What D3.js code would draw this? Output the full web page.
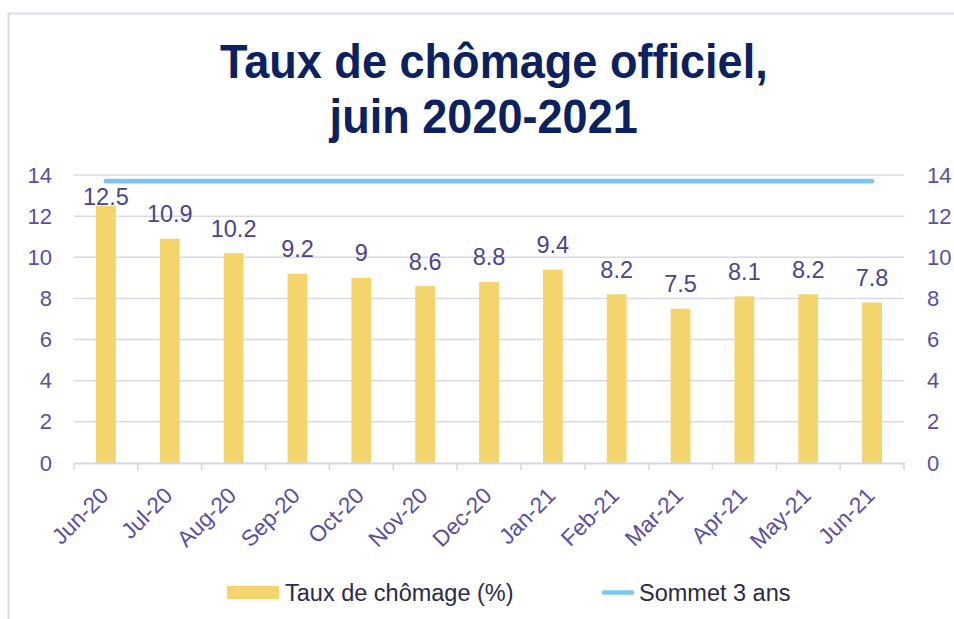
<!DOCTYPE html>
<html>
<head>
<meta charset="utf-8">
<script src="https://cdn.jsdelivr.net/npm/d3@7"></script>
<style>
  body { margin: 0; background: #fff; }
  text { font-family: "Liberation Sans", Arial, sans-serif; }
</style>
</head>
<body>
<div id="chart"></div>
<script>
// data
const months = ["Jun-20", "Jul-20", "Aug-20", "Sep-20", "Oct-20", "Nov-20", "Dec-20",
  "Jan-21", "Feb-21", "Mar-21", "Apr-21", "May-21", "Jun-21"];
const taux = [12.5, 10.9, 10.2, 9.2, 9, 8.6, 8.8, 9.4, 8.2, 7.5, 8.1, 8.2, 7.8];
const sommet = [13.7, 13.7, 13.7, 13.7, 13.7, 13.7, 13.7, 13.7, 13.7, 13.7, 13.7, 13.7, 13.7];
const yTicks = [0, 2, 4, 6, 8, 10, 12, 14];
const titleLines = ["Taux de chômage officiel,", "juin 2020-2021"];

const W = 954, H = 619;
const margin = { top: 175, right: 50, bottom: 156, left: 74 };
const width = W - margin.left - margin.right;
const height = H - margin.top - margin.bottom;

const svg = d3.select("#chart").append("svg")
  .attr("width", W).attr("height", H);

// outer frame (only left and top edges show)
svg.append("path")
  .attr("d", `M8.5,${H} V13.5 H${W}`)
  .attr("fill", "none")
  .attr("stroke", "#dcdaee")
  .attr("stroke-width", 2);

// title, a bit narrow like the original
svg.append("g")
  .attr("transform", "translate(492,0) scale(0.92,1)")
  .selectAll("text")
  .data(titleLines).enter().append("text")
  .attr("x", (d, i) => (i === 0 ? 2 : -9))
  .attr("y", (d, i) => 78 + i * 55)
  .attr("text-anchor", "middle")
  .attr("font-size", 49)
  .attr("font-weight", "bold")
  .attr("fill", "#0c2160")
  .text((d) => d);

const g = svg.append("g").attr("transform", `translate(${margin.left},${margin.top})`);

const x = d3.scaleBand().domain(months).range([0, width]).paddingInner(0.69).paddingOuter(0.345);
const xb = d3.scaleBand().domain(months).range([0, width]);
const y = d3.scaleLinear().domain([0, 14]).range([height, 0]);

// gridlines
g.append("g").selectAll("line")
  .data(yTicks.filter((d) => d > 0)).enter().append("line")
  .attr("x1", 0).attr("x2", width)
  .attr("y1", (d) => y(d)).attr("y2", (d) => y(d))
  .attr("stroke", "#dad8eb").attr("stroke-width", 1.5);

// bars
g.append("g").selectAll("rect")
  .data(taux).enter().append("rect")
  .attr("x", (d, i) => x(months[i]))
  .attr("width", x.bandwidth())
  .attr("y", (d) => y(d))
  .attr("height", (d) => height - y(d))
  .attr("fill", "#f3d46d");

// data labels (kept inside the plot area, like Excel does)
g.append("g").selectAll("text")
  .data(taux).enter().append("text")
  .attr("x", (d, i) => xb(months[i]) + xb.bandwidth() / 2)
  .attr("y", (d) => Math.max(y(d) - 16.5, 30))
  .attr("text-anchor", "middle")
  .attr("font-size", 23.5)
  .attr("fill", "#4b4489")
  .text((d) => d);

// 3-year peak line
const line = d3.line()
  .x((d, i) => xb(months[i]) + xb.bandwidth() / 2)
  .y((d) => y(d));
g.append("path")
  .datum(sommet)
  .attr("d", line)
  .attr("fill", "none")
  .attr("stroke", "#7cc4f2")
  .attr("stroke-width", 4.7)
  .attr("stroke-linecap", "round");

// x axis
const xAxis = g.append("g")
  .attr("transform", `translate(0,${height})`)
  .call(d3.axisBottom(xb).tickSize(0).tickFormat(""));
xAxis.select(".domain").attr("stroke", "#d6d4ea").attr("stroke-width", 2);
g.append("g").selectAll("line")
  .data(d3.range(months.length + 1)).enter().append("line")
  .attr("x1", (i) => i * xb.step()).attr("x2", (i) => i * xb.step())
  .attr("y1", height).attr("y2", height + 7)
  .attr("stroke", "#d6d4ea").attr("stroke-width", 1.5);
g.append("g").selectAll("text")
  .data(months).enter().append("text")
  .attr("transform", (d) => `translate(${xb(d) + xb.bandwidth() / 2 + 4},${height + 34}) rotate(-45)`)
  .attr("text-anchor", "end")
  .attr("font-size", 22.5)
  .attr("fill", "#5a4f9f")
  .text((d) => d);

// y axes (left and right)
const yl = g.append("g").call(d3.axisLeft(y).tickValues(yTicks).tickSize(0).tickPadding(22));
const yr = g.append("g").attr("transform", `translate(${width},0)`)
  .call(d3.axisRight(y).tickValues(yTicks).tickSize(0).tickPadding(23));
[yl, yr].forEach((ax) => {
  ax.select(".domain").remove();
  ax.selectAll("text")
    .attr("font-family", "Liberation Sans, Arial, sans-serif")
    .attr("font-size", 22)
    .attr("fill", "#5a4f9f");
});

// legend
const leg = svg.append("g");
leg.append("rect")
  .attr("x", 227).attr("y", 586).attr("width", 52).attr("height", 13)
  .attr("fill", "#f3d46d");
leg.append("text")
  .attr("x", 285).attr("y", 601)
  .attr("font-size", 23.5).attr("fill", "#2b2a48")
  .text("Taux de chômage (%)");
leg.append("line")
  .attr("x1", 604).attr("x2", 632).attr("y1", 592.5).attr("y2", 592.5)
  .attr("stroke", "#7cc4f2").attr("stroke-width", 4.7).attr("stroke-linecap", "round");
leg.append("text")
  .attr("x", 639).attr("y", 601)
  .attr("font-size", 23.5).attr("fill", "#2b2a48")
  .text("Sommet 3 ans");
</script>
</body>
</html>
